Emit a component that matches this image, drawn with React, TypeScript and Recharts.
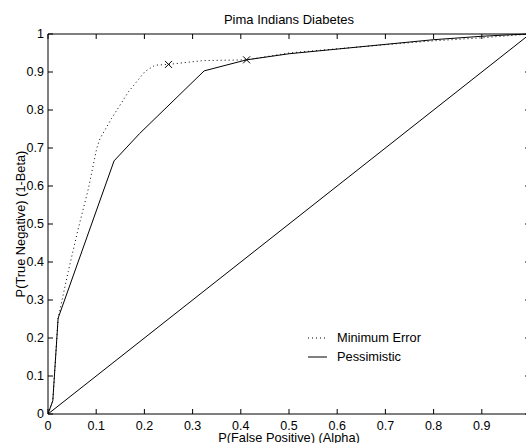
import {
  ComposedChart,
  Line,
  Scatter,
  XAxis,
  YAxis,
  Legend,
} from "recharts";

const xTicks = [0, 0.1, 0.2, 0.3, 0.4, 0.5, 0.6, 0.7, 0.8, 0.9];
const yTicks = [0, 0.1, 0.2, 0.3, 0.4, 0.5, 0.6, 0.7, 0.8, 0.9, 1];

const minErrorX = [0, 0.01, 0.021, 0.042, 0.063, 0.084, 0.101, 0.108, 0.132, 0.167, 0.201, 0.222, 0.25, 0.322, 0.412, 0.5, 0.7, 0.8, 0.9, 1];
const minErrorY = [0, 0.035, 0.252, 0.375, 0.489, 0.594, 0.699, 0.725, 0.778, 0.848, 0.901, 0.918, 0.92, 0.93, 0.932, 0.95, 0.972, 0.982, 0.99, 1];

const pessimisticX = [0, 0.01, 0.021, 0.137, 0.19, 0.324, 0.412, 0.5, 0.8, 0.9, 0.96, 1];
const pessimisticY = [0, 0.035, 0.252, 0.666, 0.738, 0.903, 0.932, 0.948, 0.985, 0.994, 0.998, 1];

const chanceX = [0, 1];
const chanceY = [0, 1];

const minErrorMarker = [{ x: 0.25, y: 0.92 }];
const pessimisticMarker = [{ x: 0.412, y: 0.932 }];

const zip = (xs: number[], ys: number[]) => xs.map((x, i) => ({ x, y: ys[i] }));

const minErrorData = zip(minErrorX, minErrorY);
const pessimisticData = zip(pessimisticX, pessimisticY);
const chanceData = zip(chanceX, chanceY);

const FONT = '"Liberation Sans", Arial, Helvetica, sans-serif';
const tickStyle = { fill: "#000", fontSize: 12.5, fontFamily: FONT };

const legendItems = [
  { name: "Minimum Error", dash: "1 3" },
  { name: "Pessimistic", dash: undefined },
];

function XMark(props: any) {
  const { cx, cy } = props;
  const r = 3.5;
  return (
    <g stroke="#000" strokeWidth={1}>
      <line x1={cx - r} y1={cy - r} x2={cx + r} y2={cy + r} />
      <line x1={cx - r} y1={cy + r} x2={cx + r} y2={cy - r} />
    </g>
  );
}

function LegendBox() {
  return (
    <div style={{ fontFamily: FONT, fontSize: 12.8, color: "#000" }}>
      {legendItems.map((it) => (
        <div key={it.name} style={{ display: "flex", alignItems: "center", height: 19 }}>
          <svg width={29} height={10} style={{ marginRight: 8 }}>
            <line x1={8} y1={5} x2={27} y2={5} stroke="#000" strokeDasharray={it.dash} />
          </svg>
          <span>{it.name}</span>
        </div>
      ))}
    </div>
  );
}

const noLabel = () => <g />;

export default function App() {
  return (
    <div
      style={{
        position: "absolute",
        left: 0,
        top: 0,
        width: 526,
        height: 443,
        overflow: "hidden",
        background: "#fff",
        fontFamily: FONT,
      }}
    >
      <div
        style={{
          position: "absolute",
          left: 48,
          top: 13,
          width: 482,
          textAlign: "center",
          fontSize: 13,
          lineHeight: "13px",
          color: "#000",
        }}
      >
        Pima Indians Diabetes
      </div>
      <ComposedChart
        width={531}
        height={443}
        margin={{ top: 33, right: 0, bottom: 0, left: 0 }}
      >
        <XAxis
          xAxisId={0}
          dataKey="x"
          type="number"
          domain={[0, 1]}
          ticks={xTicks}
          interval={0}
          height={29}
          tickSize={-5}
          tickMargin={12}
          stroke="#000"
          tick={tickStyle}
          allowDataOverflow
          label={{
            value: "P(False Positive) (Alpha)",
            position: "insideBottom",
            offset: 1.5,
            style: { fill: "#000", fontSize: 12.8, fontFamily: FONT },
          }}
        />
        <XAxis
          xAxisId="top"
          orientation="top"
          dataKey="x"
          type="number"
          domain={[0, 1]}
          ticks={xTicks}
          interval={0}
          height={1}
          tickSize={-5}
          stroke="#000"
          tick={noLabel}
        />
        <YAxis
          yAxisId={0}
          type="number"
          domain={[0, 1]}
          ticks={yTicks}
          interval={0}
          width={48}
          tickSize={-5}
          tickMargin={9}
          stroke="#000"
          tick={tickStyle}
          label={{
            value: "P(True Negative) (1-Beta)",
            angle: -90,
            position: "insideLeft",
            offset: 20,
            style: { fill: "#000", fontSize: 12.8, fontFamily: FONT, textAnchor: "middle" },
          }}
        />
        <YAxis
          yAxisId="right"
          orientation="right"
          type="number"
          domain={[0, 1]}
          ticks={yTicks}
          interval={0}
          width={1}
          tickSize={-5}
          stroke="#000"
          tick={noLabel}
        />
        <Legend
          layout="vertical"
          align="center"
          verticalAlign="middle"
          content={LegendBox}
          wrapperStyle={{ position: "absolute", left: 300, top: 328, width: 200, height: 40 }}
        />
        <Line
          xAxisId="top"
          yAxisId="right"
          data={chanceData}
          dataKey="y"
          stroke="#000"
          strokeWidth={1}
          dot={false}
          activeDot={false}
          legendType="none"
          isAnimationActive={false}
        />
        <Line
          name="Minimum Error"
          data={minErrorData}
          dataKey="y"
          stroke="#000"
          strokeWidth={1}
          strokeDasharray="1 3"
          dot={false}
          activeDot={false}
          isAnimationActive={false}
        />
        <Line
          name="Pessimistic"
          data={pessimisticData}
          dataKey="y"
          stroke="#000"
          strokeWidth={1}
          dot={false}
          activeDot={false}
          isAnimationActive={false}
        />
        <Scatter
          data={minErrorMarker}
          dataKey="y"
          shape={XMark}
          legendType="none"
          isAnimationActive={false}
        />
        <Scatter
          data={pessimisticMarker}
          dataKey="y"
          shape={XMark}
          legendType="none"
          isAnimationActive={false}
        />
      </ComposedChart>
    </div>
  );
}
